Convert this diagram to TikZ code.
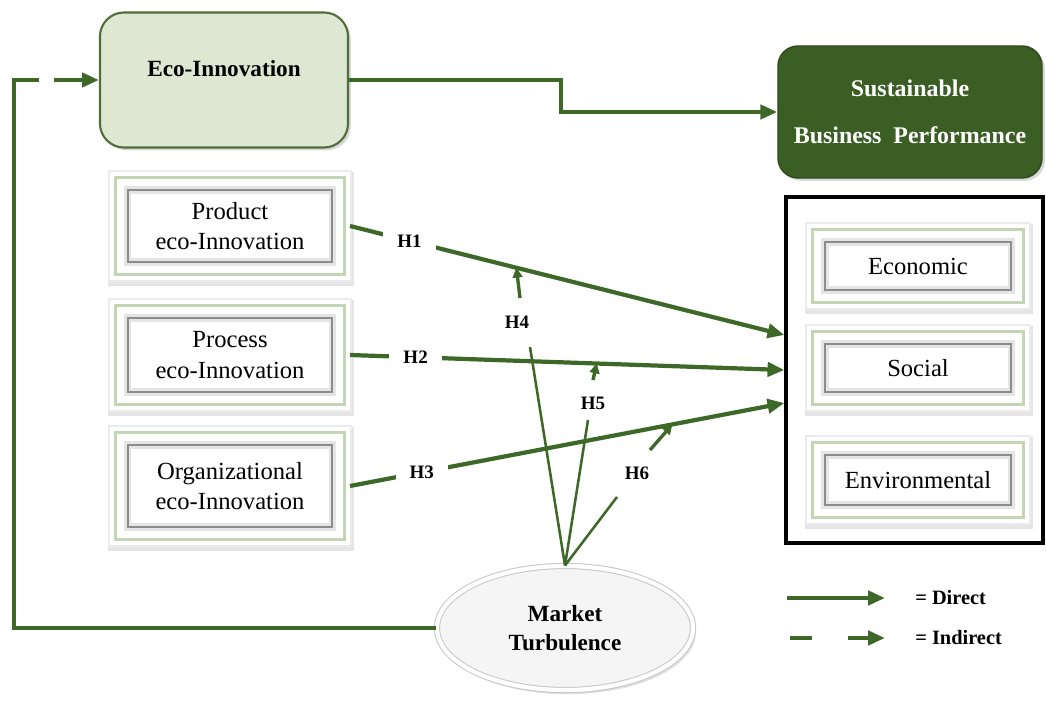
\documentclass[tikz,border=0pt]{standalone}
\usepackage{fontspec}
\setmainfont{Liberation Serif}
\usetikzlibrary{arrows.meta,calc,shapes.geometric,shadows}

\definecolor{linegreen}{RGB}{61,104,39}
\definecolor{ecofill}{RGB}{221,231,209}
\definecolor{ecodraw}{RGB}{78,110,58}
\definecolor{sbpfill}{RGB}{59,94,36}
\definecolor{framegreen}{RGB}{196,213,180}

\newcommand\boxfont{\fontsize{17.5}{21.5}\selectfont}

\tikzset{
  link/.style={draw=linegreen, line width=3pt},
  modlink/.style={draw=linegreen, line width=1.8pt},
  tip/.style={-{Triangle[length=12pt,width=10pt]}},
  smalltip/.style={-{Triangle[length=7pt,width=7pt]}},
  hyp/.style={font=\bfseries\fontsize{13.5}{15}\selectfont, fill=white, inner xsep=10pt, inner ysep=3pt},
  hyplab/.style={font=\bfseries\fontsize{13.5}{15}\selectfont, inner sep=1pt},
  framed/.style={rectangle, fill=white, inner sep=0pt, outer sep=0.45cm, align=center, font=\boxfont,
    preaction={draw=black!10, line width=1.05cm, transform canvas={xshift=1pt, yshift=-2pt}},
    preaction={draw=black!8, line width=0.98cm},
    preaction={draw=white, line width=0.9cm},
    preaction={draw=framegreen, line width=0.7cm},
    preaction={draw=white, line width=0.55cm},
    postaction={draw=black!10, line width=5pt},
    postaction={draw=black!45, line width=0.8pt}},
  legend/.style={anchor=west, font=\bfseries\fontsize{14.5}{16}\selectfont, inner sep=0pt}
}

\begin{document}
\begin{tikzpicture}[x=0.025cm, y=-0.025cm]
\useasboundingbox (0,0) rectangle (1046,708);

\node[rectangle, rounded corners=0.6cm, fill=ecofill, draw=ecodraw, line width=1.5pt,
  minimum width=6.2cm, minimum height=3.375cm, text depth=0.6cm,
  font=\bfseries\fontsize{16.5}{19}\selectfont,
  drop shadow={opacity=0.3, shadow xshift=2pt, shadow yshift=-2pt}] (eco) at (224,80) {Eco-Innovation};
\node[rectangle, rounded corners=0.5cm, fill=sbpfill, draw=sbpfill!80!black, line width=1pt,
  minimum width=6.6cm, minimum height=3.3cm, align=center, text=white,
  font=\bfseries\fontsize{17}{33}\selectfont,
  drop shadow={opacity=0.3, shadow xshift=2pt, shadow yshift=-2pt}] (sbp) at (910,112) {Sustainable\\Business\ \ Performance};

\node[framed, minimum width=5.1cm, minimum height=1.8cm] (prod) at (230,226) {Product\\eco-Innovation};
\node[framed, minimum width=5.1cm, minimum height=1.85cm] (proc) at (230,355) {Process\\eco-Innovation};
\node[framed, minimum width=5.1cm, minimum height=2.05cm] (org) at (230,486) {Organizational\\eco-Innovation};

\node[rectangle, draw=black, line width=2.2pt, minimum width=6.425cm, minimum height=8.65cm] (perf) at (914.5,370) {};
\node[framed, minimum width=4.65cm, minimum height=1.2cm] (econ) at (918,266) {Economic};
\node[framed, minimum width=4.65cm, minimum height=1.2cm] (soc) at (918,368) {Social};
\node[framed, minimum width=4.65cm, minimum height=1.25cm] (env) at (918,480) {Environmental};

\node[ellipse, fill=gray!8, draw=gray!45, double=white, double distance=3pt, line width=0.7pt,
  minimum width=6.4cm, minimum height=3.1cm, inner sep=0pt, align=center,
  font=\bfseries\fontsize{16.5}{21}\selectfont,
  drop shadow={opacity=0.25, shadow xshift=2pt, shadow yshift=-3pt}] (mt) at (565,628) {Market\\Turbulence};

\coordinate (t1) at ($(perf.west)+(0,-35)$);
\coordinate (t2) at (perf.west);
\coordinate (t3) at ($(perf.west)+(0,33)$);

% direct paths
\draw[link,tip] (eco.east) -- ++(212,0) |- (sbp.west);
\draw[link,tip] (prod.east) -- node[hyp,pos=0.137] (h1) {H1} (t1);
\draw[link,tip] (proc.east) -- node[hyp,pos=0.151] (h2) {H2} (t2);
\draw[link,tip] (org.east) -- node[hyp,pos=0.165] (h3) {H3} (t3);

% moderation
\node[hyplab] (h4) at (517,322) {H4};
\node[hyplab] (h5) at (593,403) {H5};
\node[hyplab] (h6) at (637,473) {H6};
\draw[modlink] (mt.north) -- ($(h4)+(13,25)$);
\draw[modlink] (mt.north) -- ($(h5)+(-5,17)$);
\draw[modlink] (mt.north) -- ($(h6)+(-20,24)$);
\draw[modlink,line width=2.4pt,smalltip] ($(h4)+(3,-24)$) -- ($(prod.east)!0.383!(t1)$);
\draw[modlink,line width=2.4pt,smalltip] ($(h5)+(0,-23)$) -- ($(proc.east)!0.568!(t2)$);
\draw[modlink,line width=2.4pt,smalltip] ($(h6)+(13,-23)$) -- ($(org.east)!0.742!(t3)$);

% feedback (indirect)
\draw[link] (mt.west) -| ($(eco.west)+(-85,0)$) -- ++(25,0);
\draw[link,tip] ($(eco.west)+(-45,0)$) -- (eco.west);

% legend
\node[legend] (ldir) at (915,598) {= Direct};
\node[legend] (lind) at (915,638) {= Indirect};
\draw[link,tip] ($(ldir.west)+(-128,0)$) -- ($(ldir.west)+(-30,0)$);
\draw[link] ($(lind.west)+(-125,0)$) -- ++(22,0);
\draw[link,tip] ($(lind.west)+(-67,0)$) -- ($(lind.west)+(-30,0)$);
\end{tikzpicture}
\end{document}
